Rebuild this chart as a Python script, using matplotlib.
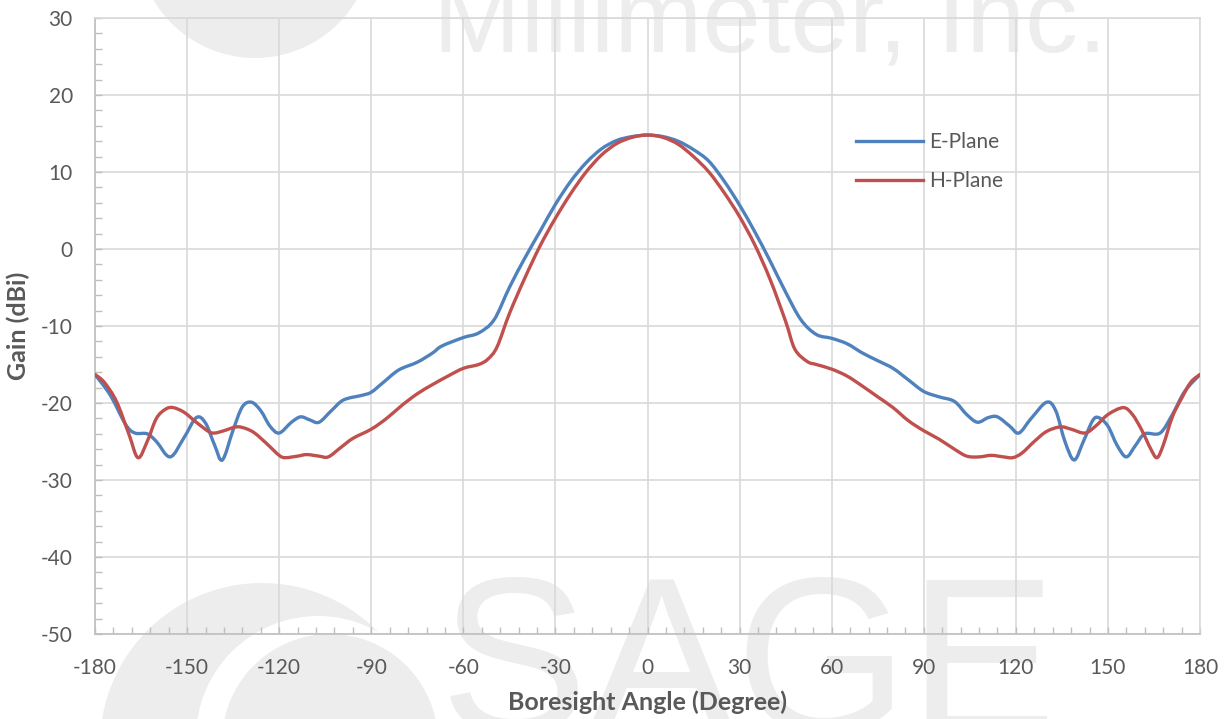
import matplotlib
matplotlib.use("Agg")
import matplotlib.pyplot as plt
from matplotlib.path import Path
from matplotlib.patches import PathPatch, Circle
from matplotlib.lines import Line2D
from matplotlib.ticker import MultipleLocator

# E-plane gain (dBi)
e_angle = [-180, -175, -170, -167, -163, -160, -155.5, -151, -147, -144, -141, -138.5,
           -135, -132, -129, -126, -123, -120, -116, -113, -110, -107, -103, -99, -93,
           -90, -86, -81, -75, -70, -67, -60, -55, -50, -45, -40, -35, -30, -25, -20,
           -15, -10, -5, 0, 5, 10, 15, 20, 25, 30, 35, 40, 45, 50, 55, 60, 65, 70, 75,
           80, 85, 90, 95, 100, 104, 107.5, 111, 114, 118, 121, 125, 130, 133, 136, 139,
           142, 145, 147, 150, 153, 156, 159, 162, 167, 171, 175, 180]
e_gain = [-16.3, -19.0, -22.8, -23.9, -24.0, -25.0, -27.0, -24.5, -21.9, -22.6, -25.5, -27.4,
          -23.5, -20.5, -19.9, -21.0, -23.0, -23.9, -22.5, -21.8, -22.2, -22.5, -21.0, -19.6, -19.0,
          -18.6, -17.3, -15.7, -14.7, -13.5, -12.6, -11.5, -10.9, -9.2, -5.0, -1.2, 2.3, 5.8, 8.8, 11.2,
          13.0, 14.1, 14.6, 14.8, 14.6, 14.0, 12.9, 11.4, 8.8, 5.7, 2.2, -1.6, -5.6, -9.2, -11.1,
          -11.6, -12.3, -13.5, -14.5, -15.5, -17.0, -18.5, -19.2, -19.8, -21.5, -22.5, -21.9, -21.8,
          -23.0, -23.9, -22.0, -19.9, -21.0, -25.0, -27.4, -25.0, -22.3, -21.9, -23.0, -25.5, -27.0,
          -25.5, -24.0, -23.9, -21.5, -18.5, -16.3]

# H-plane gain (dBi)
h_angle = [-180, -177, -173, -169, -166, -163, -160, -157, -154.5, -151, -147, -143, -141,
           -138, -134, -131, -128, -124, -120, -118, -114, -111, -107, -104, -100, -96, -90,
           -85, -80, -75, -70, -65, -60, -55, -52, -49, -45, -40, -35, -30, -25, -20, -15,
           -10, -5, 0, 5, 10, 15, 20, 25, 30, 35, 40, 45, 48, 52, 55, 60, 65, 70, 75, 80, 85,
           90, 95, 100, 104, 108, 112, 116, 119, 122, 126, 130, 134.5, 138, 142.5, 146, 150,
           155, 158, 161, 164, 166, 168, 171, 174, 177, 180]
h_gain = [-16.3, -17.3, -19.8, -24.0, -27.1, -25.0, -22.0, -20.8, -20.6, -21.2, -22.5, -23.7, -23.9,
          -23.6, -23.1, -23.3, -23.9, -25.3, -26.8, -27.1, -26.9, -26.7, -26.9, -27.0, -25.8, -24.6, -23.4,
          -22.0, -20.3, -18.8, -17.6, -16.5, -15.5, -15.0, -14.3, -12.7, -8.4, -3.8, 0.4, 4.0, 7.2, 10.0, 12.2,
          13.7, 14.5, 14.8, 14.5, 13.6, 12.0, 10.0, 7.3, 4.2, 0.5, -4.0, -9.4, -13.0, -14.6, -15.0, -15.6,
          -16.5, -17.8, -19.2, -20.6, -22.3, -23.6, -24.7, -26.0, -26.9, -27.0, -26.8, -27.0, -27.1, -26.5,
          -25.0, -23.7, -23.1, -23.4, -23.9, -23.0, -21.5, -20.6, -21.5, -23.5, -26.0, -27.1, -25.5,
          -21.8, -19.4, -17.3, -16.3]

series = [("E-Plane", e_angle, e_gain, "#4f81bd"),
          ("H-Plane", h_angle, h_gain, "#c0504d")]

x_ticks = list(range(-180, 181, 30))
y_ticks = list(range(-50, 31, 10))

GRAY_TXT = "#595959"
GRID = "#d9d9d9"
WM = "#ededed"


def smooth_path(xs, ys):
    # Excel-style smoothed line: Catmull-Rom segments as cubic Beziers
    pts = list(zip(xs, ys))
    verts = [pts[0]]
    codes = [Path.MOVETO]
    n = len(pts)
    for i in range(n - 1):
        p0 = pts[i - 1] if i > 0 else pts[i]
        p1 = pts[i]
        p2 = pts[i + 1]
        p3 = pts[i + 2] if i + 2 < n else pts[i + 1]
        c1 = (p1[0] + (p2[0] - p0[0]) / 6, p1[1] + (p2[1] - p0[1]) / 6)
        c2 = (p2[0] - (p3[0] - p1[0]) / 6, p2[1] - (p3[1] - p1[1]) / 6)
        verts += [c1, c2, p2]
        codes += [Path.CURVE4] * 3
    return Path(verts, codes)


plt.rcParams['font.family'] = ['Lato', 'DejaVu Sans']
plt.rcParams['axes.unicode_minus'] = False

fig = plt.figure(figsize=(12.28, 7.19), dpi=100, facecolor='white')

# faint watermark behind the chart (pixel coords -> inches)
def px(x, y):
    return (x / 100, (719 - y) / 100)

for c in [Circle(px(262, 745), 1.62, color=WM, lw=0),
          Circle(px(318, 738), 1.22, color='white', lw=0),
          Circle(px(330, 742), 1.08, color=WM, lw=0),
          Circle(px(255, -60), 1.18, color=WM, lw=0)]:
    c.set_transform(fig.dpi_scale_trans)
    c.set_zorder(0)
    fig.patches.append(c)

fig.text(0.627, 0.928, "Millimeter, Inc.", fontsize=76, color=WM,
         family='Liberation Sans', ha='center', va='baseline', zorder=0)
fig.text(0.61, -0.02, "SAGE", fontsize=160, color=WM,
         family='Liberation Sans', ha='center', va='baseline', zorder=0)

ax = fig.add_axes([95 / 1228, (719 - 634) / 719, 1105 / 1228, 616 / 719])
ax.set_facecolor('none')
ax.set_zorder(1)

for name, xs, ys, col in series:
    ax.add_patch(PathPatch(smooth_path(xs, ys), fill=False, edgecolor=col,
                           lw=2.4, capstyle='round', joinstyle='round', zorder=3))

ax.set_xlim(-180, 180)
ax.set_ylim(-50, 30)
ax.set_xticks(x_ticks)
ax.set_yticks(y_ticks)
ax.xaxis.set_minor_locator(MultipleLocator(6))
ax.yaxis.set_minor_locator(MultipleLocator(2))
ax.grid(True, which='major', color=GRID, lw=1.2, zorder=1)
ax.set_axisbelow(True)

for s in ['top', 'right']:
    ax.spines[s].set_color(GRID)
    ax.spines[s].set_linewidth(1.2)
for s in ['left', 'bottom']:
    ax.spines[s].set_color('#bfbfbf')
    ax.spines[s].set_linewidth(1.2)

ax.tick_params(which='both', direction='in', color='#bfbfbf', width=1.0)
ax.tick_params(which='major', length=5, labelsize=15, labelcolor=GRAY_TXT)
ax.tick_params(which='minor', length=5)
ax.tick_params(axis='x', which='major', pad=17)
ax.tick_params(axis='y', which='major', pad=16)

ax.set_xlabel("Boresight Angle (Degree)", fontsize=18, fontweight='bold',
              color=GRAY_TXT, labelpad=9)
ax.set_ylabel("Gain (dBi)", fontsize=18, fontweight='bold', color=GRAY_TXT, labelpad=8)

handles = [Line2D([], [], color=col, lw=2.4) for _, _, _, col in series]
leg = ax.legend(handles, [s[0] for s in series], loc='upper left',
                bbox_to_anchor=(0.672, 0.845), frameon=False, fontsize=15,
                handlelength=3.2, handletextpad=0.3, labelspacing=0.9,
                labelcolor=GRAY_TXT)

fig.savefig("out.png", dpi=100, facecolor='white')
